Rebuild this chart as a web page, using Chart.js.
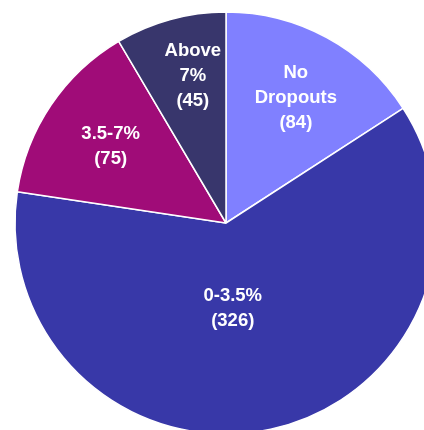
<!DOCTYPE html>
<html>
<head>
<meta charset="utf-8">
<script src="https://cdn.jsdelivr.net/npm/chart.js@4/dist/chart.umd.min.js"></script>
<style>
  html, body { margin: 0; padding: 0; background: #ffffff; overflow: hidden; width: 424px; height: 430px; }
  #wrap { position: absolute; left: 0; top: 0; width: 452px; height: 446px; }
</style>
</head>
<body>
<div id="wrap"><canvas id="c"></canvas></div>
<script>
// Data
const categories = [["No", "Dropouts"], ["0-3.5%"], ["3.5-7%"], ["Above", "7%"]];
const counts = [84, 326, 75, 45];
const sliceColors = ["#8080FF", "#3838A8", "#A00C78", "#38366C"];

// Label placement styles: fraction of radius and angular nudge (deg, clockwise)
const labelRadiusFrac = [0.68, 0.405, 0.656, 0.716];
const labelAngleShift = [0.6, 7.7, -0.4, 2.6];

const pieLabels = {
  id: 'pieLabels',
  afterDatasetsDraw(chart) {
    const ctx = chart.ctx;
    const meta = chart.getDatasetMeta(0);
    ctx.save();
    ctx.fillStyle = '#ffffff';
    ctx.font = "bold 18.5px 'Liberation Sans', Arial, sans-serif";
    ctx.textAlign = 'center';
    ctx.textBaseline = 'middle';
    const lh = 25;
    meta.data.forEach((arc, i) => {
      const p = arc.getProps(['x', 'y', 'startAngle', 'endAngle', 'outerRadius'], true);
      const mid = (p.startAngle + p.endAngle) / 2 + labelAngleShift[i] * Math.PI / 180;
      const r = p.outerRadius * labelRadiusFrac[i];
      const cx = p.x + Math.cos(mid) * r;
      const cy = p.y + Math.sin(mid) * r;
      const lines = [...categories[i], '(' + counts[i] + ')'];
      const n = lines.length;
      lines.forEach((t, k) => {
        ctx.fillText(t, cx, cy + (k - (n - 1) / 2) * lh);
      });
    });
    ctx.restore();
  }
};

new Chart(document.getElementById('c'), {
  type: 'pie',
  data: {
    labels: categories,
    datasets: [{
      data: counts,
      backgroundColor: sliceColors,
      borderColor: '#ffffff',
      borderWidth: 1.5
    }]
  },
  options: {
    responsive: true,
    maintainAspectRatio: false,
    animation: false,
    radius: 211,
    layout: { padding: 0 },
    plugins: {
      legend: { display: false },
      tooltip: { enabled: false },
      title: { display: false }
    }
  },
  plugins: [pieLabels]
});
</script>
</body>
</html>
